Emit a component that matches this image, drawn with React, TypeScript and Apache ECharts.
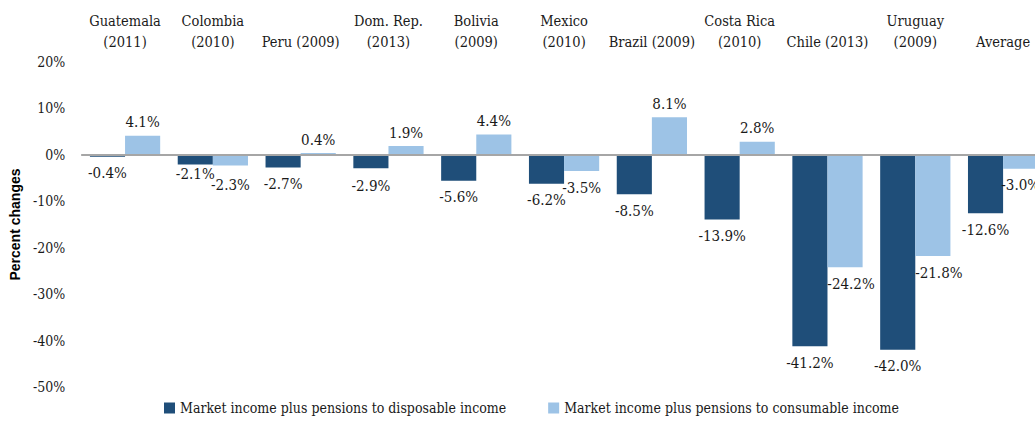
import React, { useEffect, useRef } from "react";
import * as echarts from "echarts";

const categories = [
  "Guatemala\n(2011)",
  "Colombia\n(2010)",
  "Peru (2009)",
  "Dom. Rep.\n(2013)",
  "Bolivia\n(2009)",
  "Mexico\n(2010)",
  "Brazil (2009)",
  "Costa Rica\n(2010)",
  "Chile (2013)",
  "Uruguay\n(2009)",
  "Average",
];
const disposable = [-0.4, -2.1, -2.7, -2.9, -5.6, -6.2, -8.5, -13.9, -41.2, -42.0, -12.6];
const consumable = [4.1, -2.3, 0.4, 1.9, 4.4, -3.5, 8.1, 2.8, -24.2, -21.8, -3.0];
const seriesNames = [
  "Market income plus pensions to disposable income",
  "Market income plus pensions to consumable income",
];

const SERIF = "DejaVu Serif Condensed";

const labelTweaks: Record<string, { distance?: number; offset?: number[] }> = {
  "0-1": { distance: 2 },
  "1-1": { distance: 12 },
  "0-3": { distance: 10 },
  "1-8": { offset: [6, 0] },
  "1-9": { offset: [6, 0] },
};

export default function App() {
  const ref = useRef<HTMLDivElement>(null);
  useEffect(() => {
    if (!ref.current) return;
    const chart = echarts.init(ref.current, undefined, { renderer: "svg" });
    const mkData = (vals: number[], s: number) =>
      vals.map((v, i) => {
        const t = labelTweaks[`${s}-${i}`] || {};
        return {
          value: v,
          label: {
            position: v < 0 ? "bottom" : "top",
            distance: t.distance ?? (v < 0 ? 9 : 6),
            offset: t.offset ?? [0, 0],
          },
        };
      });
    const labelCfg = {
      show: true,
      fontFamily: SERIF,
      fontSize: 15,
      color: "#1a1a1a",
      formatter: (p: any) => `${Number(p.value).toFixed(1)}%`,
    };
    chart.setOption({
      animation: false,
      textStyle: { fontFamily: SERIF },
      grid: { left: 79, top: 62, width: 968, height: 325 },
      legend: {
        bottom: 2,
        left: 159,
        itemWidth: 11,
        itemHeight: 11,
        itemGap: 42,
        icon: "rect",
        textStyle: { fontFamily: SERIF, fontSize: 14, color: "#1a1a1a" },
        data: seriesNames,
      },
      xAxis: {
        type: "category",
        position: "top",
        data: categories,
        axisLine: { show: false },
        axisTick: { show: false },
        axisLabel: {
          interval: 0,
          margin: 10,
          fontFamily: SERIF,
          fontSize: 14.5,
          lineHeight: 21,
          color: "#1a1a1a",
        },
      },
      yAxis: {
        type: "value",
        min: -50,
        max: 20,
        interval: 10,
        name: "Percent changes",
        nameLocation: "middle",
        nameGap: 55,
        nameTextStyle: {
          fontFamily: "Liberation Sans",
          fontWeight: "bold",
          fontSize: 14,
          color: "#000",
        },
        axisLine: { show: false },
        axisTick: { show: false },
        splitLine: { show: false },
        axisLabel: {
          margin: 16,
          fontFamily: SERIF,
          fontSize: 14,
          color: "#1a1a1a",
          formatter: "{value}%",
        },
      },
      series: [
        {
          name: seriesNames[0],
          type: "bar",
          data: mkData(disposable, 0),
          itemStyle: { color: "#1F4E79" },
          barGap: "0%",
          barCategoryGap: "20%",
          label: labelCfg,
          markLine: {
            silent: true,
            symbol: "none",
            label: { show: false },
            lineStyle: { color: "#A6A6A6", width: 2, type: "solid" },
            data: [{ yAxis: 0 }],
          },
        },
        {
          name: seriesNames[1],
          type: "bar",
          data: mkData(consumable, 1),
          itemStyle: { color: "#9DC3E6" },
          barGap: "0%",
          barCategoryGap: "20%",
          label: labelCfg,
        },
      ],
    });
    return () => chart.dispose();
  }, []);
  return (
    <div
      style={{
        position: "fixed",
        left: 0,
        top: 0,
        width: 1035,
        height: 422,
        overflow: "hidden",
        background: "#fff",
      }}
    >
      <div ref={ref} style={{ width: 1080, height: 422 }} />
    </div>
  );
}
